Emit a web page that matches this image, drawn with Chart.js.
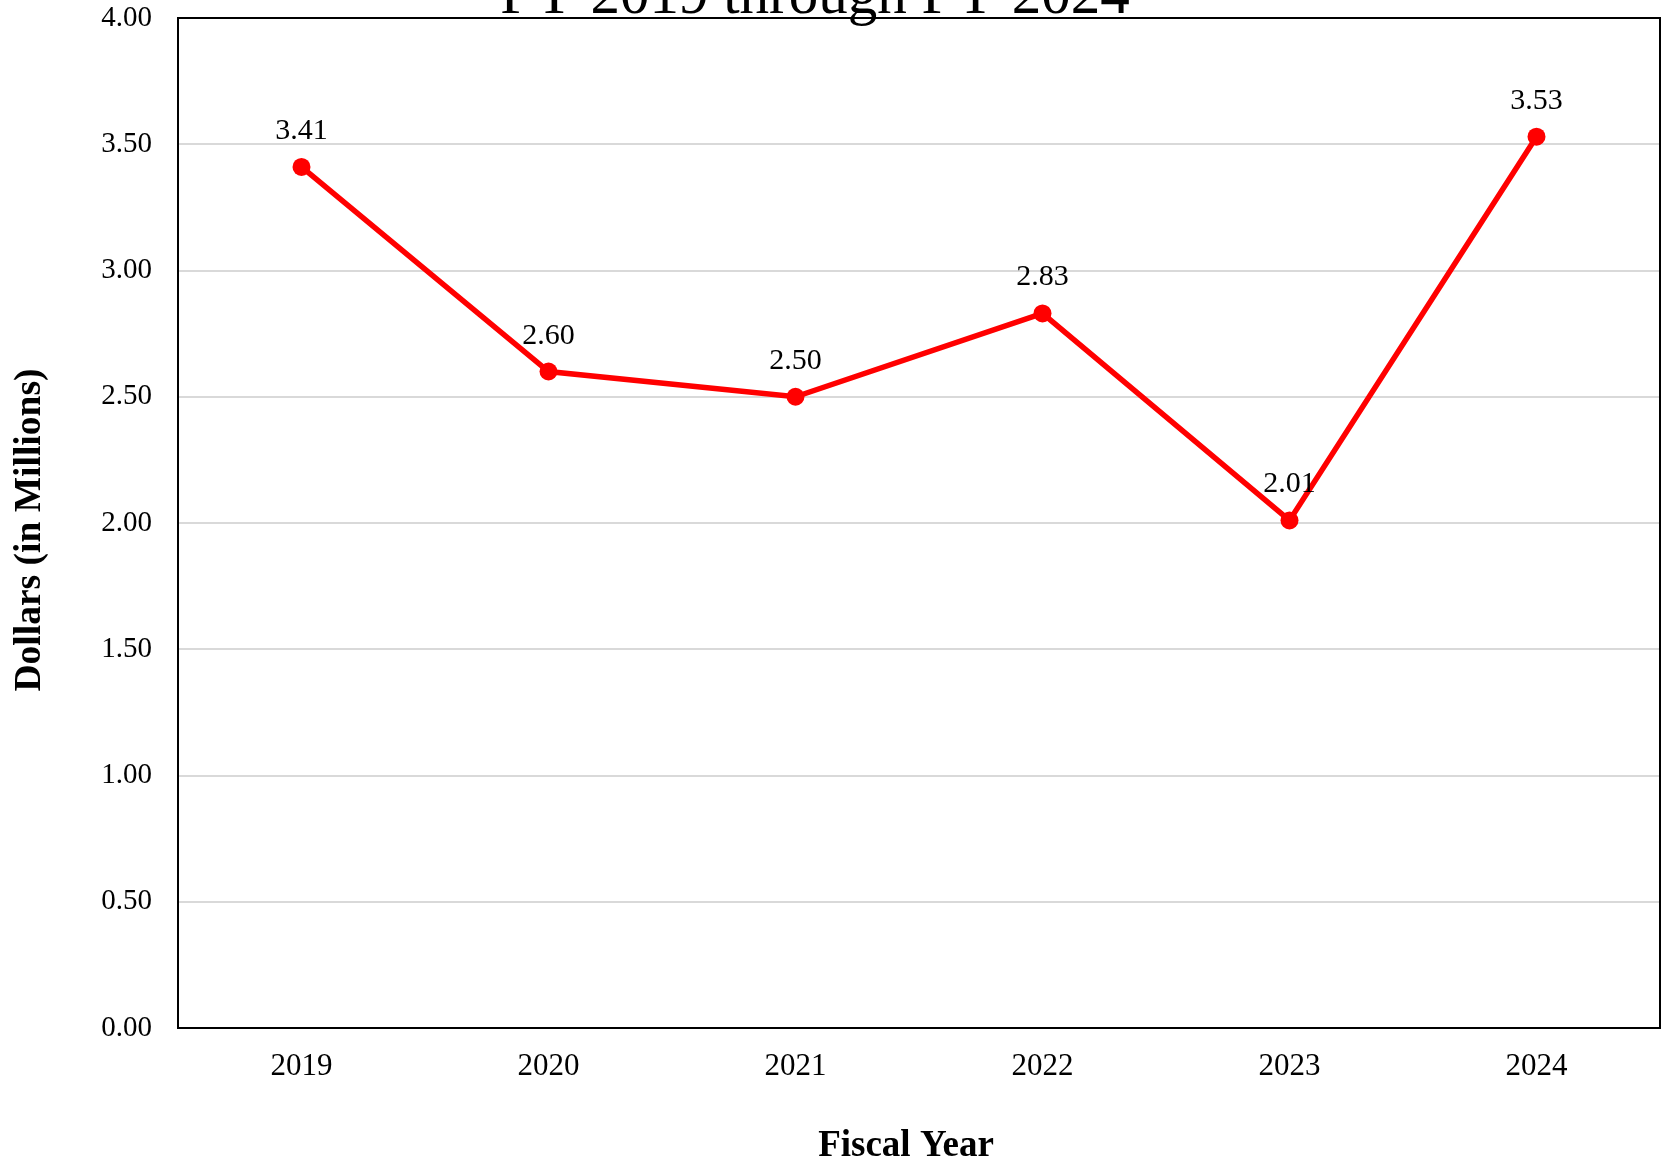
<!DOCTYPE html>
<html>
<head>
    <title>FY 2019 through FY 2024</title>
    <style>
        html, body {
            margin: 0;
            padding: 0;
            background: #ffffff;
        }
        #chartBox {
            width: 1669px;
            height: 1165px;
        }
    </style>
    <script src="https://cdn.jsdelivr.net/npm/chart.js@4.4.1/dist/chart.umd.min.js"></script>
</head>
<body>
    <div id="chartBox">
        <canvas id="chartCanvas"></canvas>
    </div>

    <script>
        // Daten
        const fiscalYears = ['2019', '2020', '2021', '2022', '2023', '2024'];
        const dollarsMillions = [3.41, 2.60, 2.50, 2.83, 2.01, 3.53];
        const titleText = 'FY 2019 through FY 2024';
        const yAxisTitle = 'Dollars (in Millions)';
        const xAxisTitle = 'Fiscal Year';

        const serif = "'Liberation Serif', 'Times New Roman', serif";

        // Rahmen um die Plotfläche
        const framePlugin = {
            id: 'frame',
            afterDatasetsDraw(chart) {
                const a = chart.chartArea;
                const ctx = chart.ctx;
                ctx.save();
                ctx.strokeStyle = '#000000';
                ctx.lineWidth = 2;
                ctx.strokeRect(a.left, a.top, a.right - a.left, a.bottom - a.top);
                ctx.restore();
            }
        };

        // Werte über den Punkten
        const valueLabelPlugin = {
            id: 'valueLabels',
            afterDatasetsDraw(chart) {
                const ctx = chart.ctx;
                const meta = chart.getDatasetMeta(0);
                ctx.save();
                ctx.font = '30px ' + serif;
                ctx.fillStyle = '#000000';
                ctx.textAlign = 'center';
                ctx.textBaseline = 'alphabetic';
                meta.data.forEach((pt, i) => {
                    ctx.fillText(dollarsMillions[i].toFixed(2), pt.x, pt.y - 28);
                });
                ctx.restore();
            }
        };

        // Titel (oben angeschnitten wie im Original) und Achsentitel
        const titlePlugin = {
            id: 'cutTitle',
            afterDraw(chart) {
                const ctx = chart.ctx;
                ctx.save();
                ctx.font = '59px ' + serif;
                ctx.fillStyle = '#000000';
                ctx.textAlign = 'center';
                ctx.textBaseline = 'alphabetic';
                ctx.fillText(titleText, 815, 13);

                ctx.font = 'bold 37px ' + serif;
                ctx.textBaseline = 'middle';
                ctx.fillText(xAxisTitle, 906, 1146);

                ctx.translate(30, 530);
                ctx.rotate(-Math.PI / 2);
                ctx.font = 'bold 37.5px ' + serif;
                ctx.fillText(yAxisTitle, 0, 0);
                ctx.restore();
            }
        };

        const chartData = {
            labels: fiscalYears,
            datasets: [{
                label: 'Dollars',
                data: dollarsMillions,
                borderColor: '#ff0000',
                backgroundColor: '#ff0000',
                borderWidth: 5.5,
                pointRadius: 9,
                pointHoverRadius: 9,
                pointBackgroundColor: '#ff0000',
                pointBorderColor: '#ff0000',
                pointBorderWidth: 0,
                tension: 0,
                fill: false
            }]
        };

        const chartOptions = {
            responsive: true,
            maintainAspectRatio: false,
            animation: false,
            layout: {
                padding: { top: 18, right: 8, left: 0, bottom: 0 }
            },
            scales: {
                x: {
                    offset: true,
                    grid: { display: false, drawTicks: false },
                    border: { display: false },
                    ticks: {
                        color: '#000000',
                        padding: 20,
                        font: { family: serif, size: 31 }
                    },
                    afterFit(scale) {
                        scale.height = 137;
                        scale.paddingLeft = 0;
                        scale.paddingRight = 0;
                    }
                },
                y: {
                    min: 0,
                    max: 4,
                    ticks: {
                        stepSize: 0.5,
                        color: '#000000',
                        padding: 26,
                        font: { family: serif, size: 29 },
                        callback: (v) => Number(v).toFixed(2)
                    },
                    grid: {
                        color: '#d9d9d9',
                        lineWidth: 2,
                        drawTicks: false
                    },
                    border: { display: false },
                    afterFit(scale) {
                        scale.width = 178;
                        scale.paddingTop = 0;
                        scale.paddingBottom = 0;
                    }
                }
            },
            plugins: {
                legend: { display: false },
                tooltip: { enabled: false }
            }
        };

        const ctx = document.getElementById('chartCanvas').getContext('2d');
        const chart = new Chart(ctx, {
            type: 'line',
            data: chartData,
            options: chartOptions,
            plugins: [framePlugin, valueLabelPlugin, titlePlugin]
        });
    </script>
</body>
</html>
